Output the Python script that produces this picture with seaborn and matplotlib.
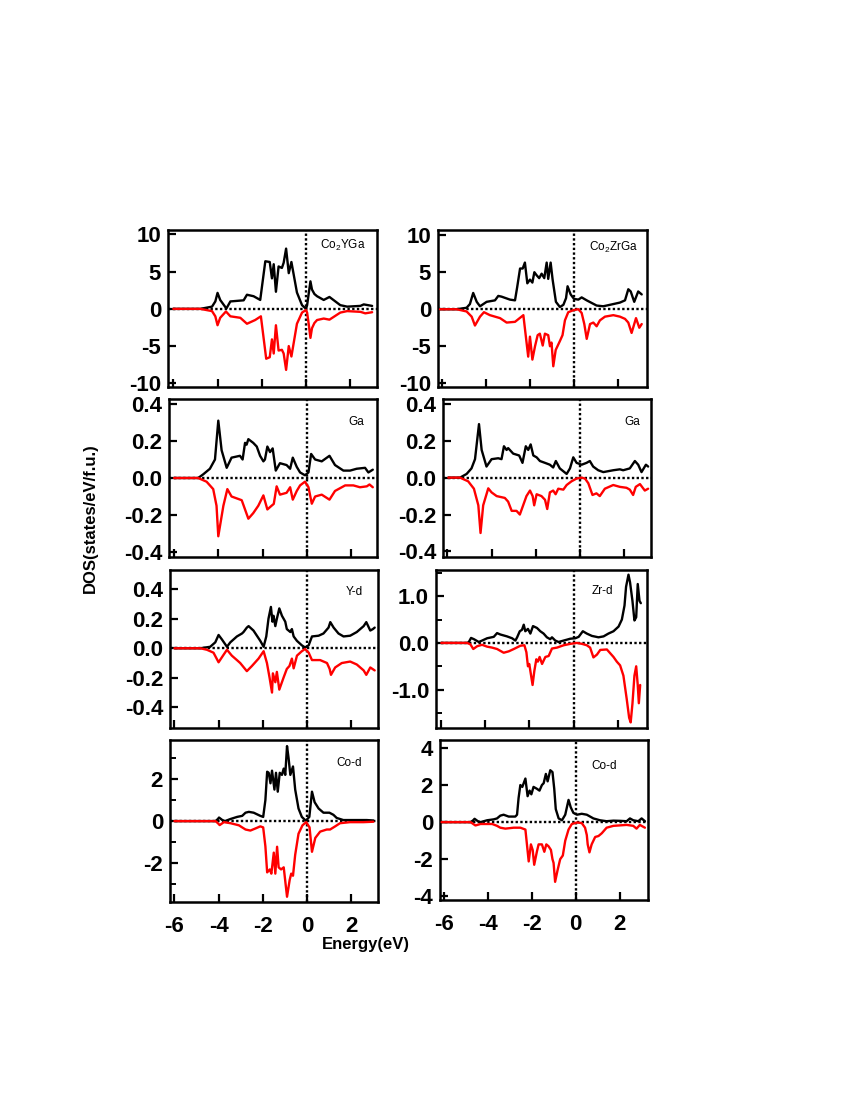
import matplotlib
matplotlib.use("Agg")
import matplotlib.pyplot as plt
import seaborn as sns

sns.set_style("ticks")
plt.rcParams['font.family'] = ['Liberation Sans', 'DejaVu Sans']
plt.rcParams['axes.unicode_minus'] = False
plt.rcParams['mathtext.fontset'] = 'custom'
plt.rcParams['mathtext.rm'] = 'Liberation Sans'
for k in ['text.color', 'axes.edgecolor', 'axes.labelcolor', 'xtick.color', 'ytick.color']:
    plt.rcParams[k] = 'black'

# ---- Co2YGa total ----
co2yga_up_e = [-6.0, -4.78, -4.25, -4.1, -4.0, -3.88, -3.6, -3.42, -2.82, -2.67, -2.37, -2.07, -1.84, -1.64,
               -1.54, -1.46, -1.36, -1.24, -1.09, -1.01, -0.9, -0.78, -0.66, -0.41, -0.18, 0.0, 0.05, 0.12,
               0.2, 0.27, 0.38, 0.5, 0.8, 1.06, 1.55, 1.86, 2.46, 2.61, 2.99]
co2yga_up = [0, 0, 0.3, 1.0, 2.15, 1.2, 0.05, 1.0, 1.15, 1.9, 1.7, 1.2, 6.4, 6.3,
             4.1, 6.0, 2.3, 5.7, 5.5, 6.2, 8.1, 4.8, 6.3, 2.2, 0.5, 0.0, 0.5, 2.0,
             3.7, 2.6, 2.0, 1.7, 1.2, 1.6, 0.5, 0.3, 0.4, 0.6, 0.4]
co2yga_dn_e = [-6.0, -4.78, -4.25, -4.1, -4.0, -3.88, -3.62, -3.42, -2.97, -2.67, -2.3, -2.04, -1.8, -1.64,
               -1.54, -1.46, -1.36, -1.24, -1.09, -1.01, -0.9, -0.78, -0.66, -0.41, -0.18, 0.0, 0.05, 0.12,
               0.2, 0.27, 0.38, 0.5, 0.8, 1.06, 1.55, 1.86, 2.46, 2.68, 2.99]
co2yga_dn = [0, 0, -0.3, -1.0, -2.2, -1.2, -0.35, -1.0, -1.2, -2.0, -1.5, -1.0, -6.7, -6.5,
             -4.1, -6.0, -2.2, -5.6, -5.5, -6.0, -8.2, -5.0, -6.4, -2.0, -0.5, -0.15, -0.5, -2.0,
             -3.9, -2.6, -1.9, -1.5, -1.3, -1.45, -0.5, -0.3, -0.4, -0.6, -0.45]

# ---- Co2ZrGa total ----
co2zrga_up_e = [-6.09, -5.33, -4.88, -4.73, -4.58, -4.42, -4.27, -3.97, -3.59, -3.44, -3.29, -2.91, -2.68,
                -2.58, -2.45, -2.33, -2.23, -2.12, -2.0, -1.89, -1.8, -1.7, -1.58, -1.47, -1.35, -1.24,
                -1.17, -1.06, -0.97, -0.82, -0.64, -0.48, -0.36, -0.29, -0.15, 0.0, 0.2, 0.35, 0.58,
                1.03, 1.33, 1.64, 2.09, 2.32, 2.47, 2.58, 2.74, 2.92, 3.08]
co2zrga_up = [0, 0, 0.2, 0.7, 2.2, 1.0, 0.4, 1.0, 1.2, 1.8, 1.7, 1.3, 1.2,
              3.0, 5.5, 5.5, 6.3, 3.5, 4.0, 3.6, 5.0, 4.6, 4.2, 4.8, 4.2, 6.3,
              4.1, 6.3, 4.0, 1.0, 0.3, 0.6, 1.5, 3.1, 2.0, 1.4, 1.3, 1.6, 1.2,
              0.5, 0.4, 0.6, 0.9, 1.2, 2.7, 2.4, 1.0, 2.4, 2.0]
co2zrga_dn_e = [-6.09, -5.33, -4.88, -4.65, -4.5, -4.27, -4.09, -3.82, -3.36, -3.06, -2.68, -2.3, -2.08,
                -2.0, -1.89, -1.77, -1.65, -1.55, -1.42, -1.32, -1.17, -1.09, -1.02, -0.94, -0.83, -0.64,
                -0.52, -0.41, -0.26, 0.0, 0.2, 0.35, 0.47, 0.58, 0.73, 0.88, 1.03, 1.18, 1.41, 1.79,
                2.09, 2.32, 2.47, 2.62, 2.82, 2.97, 3.08]
co2zrga_dn = [0, 0, -0.3, -1.0, -2.2, -1.0, -0.4, -0.8, -1.2, -1.8, -1.7, -0.8, -6.4,
              -3.7, -6.8, -5.0, -3.5, -3.3, -4.9, -3.3, -3.5, -5.0, -4.5, -7.7, -5.5, -4.3,
              -3.5, -1.5, -0.4, -0.1, 0.0, -0.5, -2.0, -4.0, -2.0, -1.8, -2.3, -1.5, -1.0, -0.8,
              -1.0, -1.3, -1.8, -3.2, -1.2, -2.5, -2.0]

# ---- Ga in Co2YGa ----
ga_y_up_e = [-6.0, -4.91, -4.68, -4.38, -4.15, -4.0, -3.85, -3.62, -3.4, -3.02, -2.9, -2.79, -2.72, -2.64,
             -2.42, -2.26, -2.11, -1.96, -1.89, -1.78, -1.66, -1.54, -1.4, -1.21, -0.91, -0.75, -0.63,
             -0.45, -0.3, -0.08, 0.08, 0.2, 0.38, 0.68, 1.03, 1.28, 1.66, 1.96, 2.26, 2.64, 2.79, 2.99]
ga_y_up = [0, 0, 0.02, 0.05, 0.1, 0.31, 0.15, 0.055, 0.11, 0.12, 0.1, 0.19, 0.18, 0.21,
           0.19, 0.17, 0.12, 0.09, 0.1, 0.17, 0.14, 0.16, 0.04, 0.08, 0.07, 0.05, 0.11,
           0.06, 0.03, 0.015, 0.03, 0.13, 0.1, 0.09, 0.12, 0.07, 0.04, 0.04, 0.05, 0.055, 0.03, 0.045]
ga_y_dn_e = [-6.0, -4.91, -4.53, -4.23, -4.08, -4.0, -3.77, -3.59, -3.4, -2.94, -2.79, -2.64, -2.42,
             -2.19, -1.96, -1.78, -1.59, -1.49, -1.36, -1.21, -0.91, -0.75, -0.63, -0.45, -0.3, -0.08,
             0.08, 0.23, 0.38, 0.68, 1.03, 1.28, 1.74, 2.11, 2.41, 2.72, 2.84, 2.99]
ga_y_dn = [0, 0, -0.02, -0.06, -0.15, -0.315, -0.15, -0.06, -0.1, -0.12, -0.17, -0.22, -0.19,
           -0.15, -0.094, -0.17, -0.15, -0.14, -0.045, -0.09, -0.08, -0.05, -0.117, -0.07, -0.04, -0.02,
           -0.05, -0.139, -0.1, -0.09, -0.117, -0.07, -0.04, -0.04, -0.05, -0.045, -0.035, -0.05]

# ---- Ga in Co2ZrGa ----
ga_zr_up_e = [-5.96, -5.43, -5.13, -4.91, -4.75, -4.57, -4.45, -4.23, -4.0, -3.7, -3.55, -3.44, -3.32,
              -3.25, -3.02, -2.75, -2.6, -2.45, -2.34, -2.23, -2.11, -1.96, -1.81, -1.58, -1.36, -1.21,
              -1.09, -0.91, -0.6, -0.45, -0.3, -0.15, 0.08, 0.3, 0.45, 0.6, 0.83, 1.06, 1.51, 1.81,
              1.96, 2.26, 2.49, 2.64, 2.79, 2.99, 3.09]
ga_zr_up = [0, 0, 0.02, 0.05, 0.1, 0.29, 0.15, 0.06, 0.1, 0.105, 0.1, 0.17, 0.15,
            0.16, 0.13, 0.12, 0.08, 0.17, 0.15, 0.18, 0.12, 0.11, 0.09, 0.08, 0.07, 0.055,
            0.09, 0.05, 0.02, 0.05, 0.11, 0.08, 0.07, 0.08, 0.09, 0.06, 0.04, 0.03, 0.04, 0.045,
            0.04, 0.05, 0.09, 0.07, 0.03, 0.07, 0.06]
ga_zr_dn_e = [-5.96, -5.43, -5.06, -4.8, -4.6, -4.5, -4.38, -4.15, -4.0, -3.77, -3.4, -3.25, -3.09,
              -2.87, -2.72, -2.57, -2.42, -2.26, -2.14, -2.07, -1.96, -1.74, -1.58, -1.48, -1.36, -1.21,
              -1.1, -0.98, -0.75, -0.6, -0.38, -0.15, 0.08, 0.23, 0.38, 0.57, 0.75, 0.9, 1.13, 1.51,
              1.81, 2.11, 2.26, 2.41, 2.53, 2.72, 2.94, 3.09]
ga_zr_dn = [0, 0, -0.02, -0.06, -0.15, -0.3, -0.15, -0.058, -0.08, -0.1, -0.11, -0.13, -0.18,
            -0.18, -0.2, -0.15, -0.1, -0.07, -0.1, -0.15, -0.09, -0.1, -0.12, -0.17, -0.08, -0.07,
            -0.09, -0.06, -0.065, -0.04, -0.02, -0.005, 0.0, -0.005, -0.03, -0.094, -0.085, -0.1, -0.06, -0.04,
            -0.05, -0.055, -0.065, -0.094, -0.05, -0.035, -0.07, -0.06]

# ---- Y-d ----
yd_up_e = [-6.0, -4.83, -4.38, -4.15, -4.0, -3.85, -3.62, -3.47, -3.17, -2.94, -2.87, -2.72, -2.64, -2.42,
           -2.11, -1.96, -1.84, -1.74, -1.63, -1.56, -1.51, -1.43, -1.36, -1.25, -1.13, -0.98, -0.91,
           -0.75, -0.68, -0.6, -0.45, -0.23, -0.08, 0.08, 0.23, 0.53, 0.75, 0.98, 1.06, 1.21, 1.43,
           1.66, 1.96, 2.26, 2.57, 2.69, 2.87, 2.99, 3.07]
yd_up = [0, 0, 0.01, 0.04, 0.09, 0.06, 0.01, 0.04, 0.08, 0.1, 0.11, 0.14, 0.15, 0.12,
         0.05, 0.01, 0.08, 0.2, 0.28, 0.18, 0.22, 0.15, 0.2, 0.27, 0.22, 0.18, 0.13,
         0.11, 0.13, 0.08, 0.05, 0.02, 0.005, 0.02, 0.08, 0.085, 0.1, 0.14, 0.177, 0.14, 0.1,
         0.08, 0.085, 0.11, 0.15, 0.177, 0.12, 0.13, 0.14]
yd_dn_e = [-6.0, -4.83, -4.53, -4.23, -4.0, -3.8, -3.62, -3.4, -3.17, -3.02, -2.72, -2.49, -2.19, -1.96,
           -1.81, -1.69, -1.58, -1.54, -1.43, -1.36, -1.25, -1.06, -0.91, -0.79, -0.68, -0.6, -0.45,
           -0.23, -0.08, 0.08, 0.23, 0.6, 0.91, 1.03, 1.09, 1.28, 1.58, 1.96, 2.26, 2.57, 2.69, 2.87, 3.07]
yd_dn = [0, 0, -0.01, -0.03, -0.095, -0.05, -0.01, -0.05, -0.08, -0.1, -0.155, -0.12, -0.07, -0.02,
         -0.1, -0.2, -0.3, -0.17, -0.23, -0.16, -0.28, -0.2, -0.14, -0.12, -0.07, -0.136, -0.05,
         -0.02, -0.005, -0.03, -0.08, -0.08, -0.1, -0.14, -0.18, -0.13, -0.1, -0.09, -0.11, -0.15, -0.18, -0.13, -0.15]

# ---- Zr-d ----
zrd_up_e = [-6.0, -4.83, -4.75, -4.65, -4.52, -4.3, -4.15, -3.92, -3.62, -3.47, -3.32, -3.02, -2.79, -2.64,
            -2.56, -2.44, -2.34, -2.26, -2.19, -2.07, -1.96, -1.84, -1.66, -1.51, -1.36, -1.21, -1.06,
            -0.98, -0.83, -0.68, -0.53, -0.3, -0.15, 0.08, 0.23, 0.42, 0.6, 0.83, 1.13, 1.36, 1.58,
            1.81, 2.04, 2.19, 2.31, 2.38, 2.49, 2.56, 2.67, 2.76, 2.84, 2.91, 2.99, 3.05]
zrd_up = [0, 0, 0.02, 0.107, 0.08, 0.02, 0.05, 0.1, 0.13, 0.21, 0.18, 0.14, 0.1, 0.05,
          0.12, 0.25, 0.28, 0.39, 0.25, 0.3, 0.2, 0.36, 0.32, 0.25, 0.2, 0.12, 0.08,
          0.12, 0.05, 0.02, 0.04, 0.07, 0.09, 0.1, 0.13, 0.25, 0.2, 0.15, 0.12, 0.14, 0.2,
          0.25, 0.35, 0.5, 0.8, 1.2, 1.46, 1.3, 0.9, 0.48, 0.55, 1.26, 0.9, 0.85]
zrd_dn_e = [-6.0, -4.83, -4.68, -4.55, -4.37, -4.15, -3.92, -3.7, -3.47, -3.17, -2.94, -2.71, -2.41, -2.23,
            -2.14, -2.07, -2.01, -1.96, -1.86, -1.78, -1.69, -1.62, -1.54, -1.43, -1.28, -1.13, -0.98,
            -0.75, -0.45, -0.15, 0.15, 0.38, 0.6, 0.75, 0.9, 1.06, 1.21, 1.51, 1.81, 1.96, 2.11, 2.26,
            2.41, 2.52, 2.59, 2.67, 2.76, 2.84, 2.91, 2.96, 3.02]
zrd_dn = [0, 0, -0.03, -0.13, -0.07, -0.04, -0.08, -0.1, -0.13, -0.21, -0.18, -0.13, -0.06, -0.05,
          -0.2, -0.5, -0.45, -0.6, -0.9, -0.6, -0.35, -0.4, -0.3, -0.45, -0.3, -0.28, -0.12,
          -0.1, -0.05, -0.02, 0.0, -0.02, -0.05, -0.1, -0.31, -0.25, -0.15, -0.14, -0.3, -0.4, -0.48, -0.7,
          -1.2, -1.6, -1.7, -1.3, -0.7, -0.5, -0.9, -1.29, -0.9]

# ---- Co-d in Co2YGa ----
cod_y_up_e = [-6.0, -4.14, -4.03, -3.98, -3.83, -3.71, -3.46, -3.16, -2.93, -2.78, -2.63, -2.41, -2.11,
              -1.98, -1.88, -1.8, -1.73, -1.65, -1.58, -1.47, -1.4, -1.32, -1.23, -1.13, -1.05, -0.98,
              -0.9, -0.83, -0.75, -0.63, -0.53, -0.38, -0.23, -0.05, 0.11, 0.23, 0.35, 0.53, 0.75,
              1.02, 1.2, 1.35, 1.65, 2.26, 2.71, 3.01]
cod_y_up = [0, 0, 0.1, 0.17, 0.05, 0.0, 0.1, 0.2, 0.25, 0.4, 0.44, 0.4, 0.25,
            0.2, 1.0, 2.35, 2.3, 1.8, 2.4, 1.5, 2.3, 1.4, 2.3, 2.2, 2.5, 2.2,
            3.57, 3.0, 2.2, 2.6, 1.5, 0.6, 0.2, 0.02, 0.2, 1.4, 0.9, 0.6, 0.4,
            0.4, 0.3, 0.15, 0.05, 0.05, 0.05, 0.03]
cod_y_dn_e = [-6.0, -4.14, -4.03, -3.95, -3.76, -3.46, -3.08, -2.78, -2.56, -2.33, -2.11, -1.98, -1.88,
              -1.8, -1.68, -1.61, -1.5, -1.43, -1.35, -1.28, -1.17, -1.05, -0.9, -0.78, -0.71, -0.63,
              -0.53, -0.38, -0.2, -0.03, 0.12, 0.23, 0.38, 0.6, 0.9, 1.05, 1.28, 1.5, 1.95, 2.56, 3.01]
cod_y_dn = [0, 0, -0.1, -0.19, -0.05, -0.1, -0.2, -0.4, -0.45, -0.35, -0.25, -0.3, -1.2,
            -2.44, -2.3, -2.5, -1.5, -2.5, -1.22, -2.2, -2.3, -2.2, -3.6, -2.8, -2.5, -2.6,
            -1.6, -0.6, -0.2, -0.05, -0.3, -1.46, -0.8, -0.5, -0.4, -0.4, -0.25, -0.1, -0.05, -0.05, -0.03]

# ---- Co-d in Co2ZrGa ----
cod_zr_up_e = [-6.1, -4.78, -4.66, -4.6, -4.45, -4.33, -4.03, -3.73, -3.58, -3.43, -3.28, -3.05, -2.75,
               -2.67, -2.6, -2.52, -2.43, -2.29, -2.19, -2.1, -2.02, -1.92, -1.77, -1.65, -1.54, -1.46,
               -1.36, -1.28, -1.16, -1.06, -0.98, -0.91, -0.78, -0.63, -0.48, -0.33, -0.23, -0.11, 0.05,
               0.27, 0.5, 0.8, 1.1, 1.4, 1.71, 2.01, 2.31, 2.46, 2.61, 2.84, 2.99, 3.14]
cod_zr_up = [0, 0, 0.1, 0.18, 0.05, 0.0, 0.1, 0.15, 0.2, 0.35, 0.4, 0.3, 0.3,
             0.4, 1.3, 2.0, 1.9, 2.35, 1.4, 1.7, 1.5, 1.9, 1.8, 1.7, 2.0, 2.1,
             2.6, 2.2, 2.8, 2.7, 1.8, 0.7, 0.2, 0.1, 0.4, 1.2, 0.8, 0.5, 0.4,
             0.45, 0.4, 0.2, 0.1, 0.05, 0.08, 0.07, 0.05, 0.2, 0.1, 0.05, 0.2, 0.05]
cod_zr_dn_e = [-6.1, -4.78, -4.66, -4.56, -4.33, -4.03, -3.8, -3.58, -3.43, -3.2, -2.82, -2.52, -2.29,
               -2.22, -2.14, -2.04, -1.96, -1.89, -1.77, -1.69, -1.54, -1.43, -1.34, -1.24, -1.13, -1.06,
               -1.01, -0.94, -0.83, -0.71, -0.59, -0.48, -0.33, -0.18, 0.05, 0.27, 0.42, 0.5, 0.54, 0.62,
               0.72, 0.88, 1.03, 1.18, 1.4, 1.71, 2.31, 2.61, 2.76, 2.91, 3.14]
cod_zr_dn = [0, 0, -0.1, -0.18, -0.1, -0.1, -0.1, -0.2, -0.3, -0.35, -0.3, -0.3, -0.4,
             -1.2, -2.12, -1.2, -1.5, -2.3, -1.6, -1.2, -1.2, -1.6, -1.2, -1.3, -1.5, -2.0,
             -2.2, -3.22, -2.6, -2.0, -1.8, -1.0, -0.4, -0.1, -0.02, -0.05, -0.3, -0.7, -1.2, -1.63,
             -1.2, -0.8, -0.75, -0.6, -0.3, -0.2, -0.15, -0.2, -0.35, -0.15, -0.3]

W, H = 850, 1100


def px_rect(l, t, r, b):
    return [l / W, 1 - b / H, (r - l) / W, (b - t) / H]


panels = [
    dict(rect=(168, 230, 377, 387), up=(co2yga_up_e, co2yga_up), dn=(co2yga_dn_e, co2yga_dn),
         xlim=(-6.24, 3.21), ylim=(-10.5, 10.6), yt=[-10, -5, 0, 5, 10], fmt='%d', minor=None,
         text='Co$_2$YGa', tpos=(0.835, 0.9)),
    dict(rect=(438, 230, 647, 387), up=(co2zrga_up_e, co2zrga_up), dn=(co2zrga_dn_e, co2zrga_dn),
         xlim=(-6.18, 3.32), ylim=(-10.5, 10.7), yt=[-10, -5, 0, 5, 10], fmt='%d', minor=None,
         text='Co$_2$ZrGa', tpos=(0.84, 0.89)),
    dict(rect=(169, 399, 377, 557), up=(ga_y_up_e, ga_y_up), dn=(ga_y_dn_e, ga_y_dn),
         xlim=(-6.23, 3.18), ylim=(-0.427, 0.427), yt=[-0.4, -0.2, 0, 0.2, 0.4], fmt='%.1f', minor=None,
         text='Ga', tpos=(0.9, 0.855)),
    dict(rect=(443, 399, 651, 557), up=(ga_zr_up_e, ga_zr_up), dn=(ga_zr_dn_e, ga_zr_dn),
         xlim=(-6.2, 3.22), ylim=(-0.43, 0.426), yt=[-0.4, -0.2, 0, 0.2, 0.4], fmt='%.1f', minor=None,
         text='Ga', tpos=(0.91, 0.855)),
    dict(rect=(170, 570, 378, 728), up=(yd_up_e, yd_up), dn=(yd_dn_e, yd_dn),
         xlim=(-6.2, 3.22), ylim=(-0.54, 0.53), yt=[-0.4, -0.2, 0, 0.2, 0.4], fmt='%.1f', minor=None,
         text='Y-d', tpos=(0.885, 0.86)),
    dict(rect=(436, 570, 647, 728), up=(zrd_up_e, zrd_up), dn=(zrd_dn_e, zrd_dn),
         xlim=(-6.24, 3.33), ylim=(-1.82, 1.56), yt=[-1, 0, 1], fmt='%.1f', minor=0.5,
         text='Zr-d', tpos=(0.79, 0.87)),
    dict(rect=(170, 740, 378, 902), up=(cod_y_up_e, cod_y_up), dn=(cod_y_dn_e, cod_y_dn),
         xlim=(-6.2, 3.22), ylim=(-3.85, 3.86), yt=[-2, 0, 2], fmt='%d', minor=1,
         text='Co-d', tpos=(0.86, 0.86)),
    dict(rect=(440, 740, 648, 900), up=(cod_zr_up_e, cod_zr_up), dn=(cod_zr_dn_e, cod_zr_dn),
         xlim=(-6.17, 3.28), ylim=(-4.2, 4.43), yt=[-4, -2, 0, 2, 4], fmt='%d', minor=None,
         text='Co-d', tpos=(0.79, 0.84)),
]

xt = [-6, -4, -2, 0, 2]
fig = plt.figure(figsize=(8.5, 11), dpi=100)

for i, p in enumerate(panels):
    ax = fig.add_axes(px_rect(*p['rect']))
    dot = (0, (1, 1))
    ax.axhline(0, color='black', ls=dot, lw=1.7, zorder=1)
    ax.axvline(0, color='black', ls=dot, lw=1.7, zorder=1)
    sns.lineplot(x=p['up'][0], y=p['up'][1], ax=ax, color='black', lw=1.7, zorder=2)
    sns.lineplot(x=p['dn'][0], y=p['dn'][1], ax=ax, color='red', lw=1.7, zorder=3)
    ax.set_xlim(*p['xlim'])
    ax.set_ylim(*p['ylim'])
    ax.set_xlabel('')
    ax.set_ylabel('')
    ax.set_yticks(p['yt'])
    ax.set_yticklabels([p['fmt'] % v for v in p['yt']], fontsize=16, fontweight='bold')
    ax.set_xticks(xt)
    if i >= 6:
        ax.set_xticklabels([str(v) for v in xt], fontsize=16, fontweight='bold')
    else:
        ax.set_xticklabels([])
    if p['minor']:
        ax.yaxis.set_minor_locator(plt.MultipleLocator(p['minor']))
    ax.tick_params(which='major', direction='in', length=6, width=1.6)
    ax.tick_params(which='minor', direction='in', length=4, width=1.4)
    ax.tick_params(axis='y', pad=5)
    ax.tick_params(axis='x', pad=10)
    for s in ax.spines.values():
        s.set_linewidth(1.8)
    ax.text(p['tpos'][0], p['tpos'][1], p['text'], transform=ax.transAxes,
            ha='center', va='center', fontsize=8.5)

fig.text(90 / W, 1 - 518 / H, 'DOS(states/eV/f.u.)', rotation=90, ha='center', va='center',
         fontsize=12, fontweight='bold')
fig.text(366 / W, 1 - 945 / H, 'Energy(eV)', ha='center', va='center',
         fontsize=12, fontweight='bold')

fig.savefig('out.png', dpi=100)
